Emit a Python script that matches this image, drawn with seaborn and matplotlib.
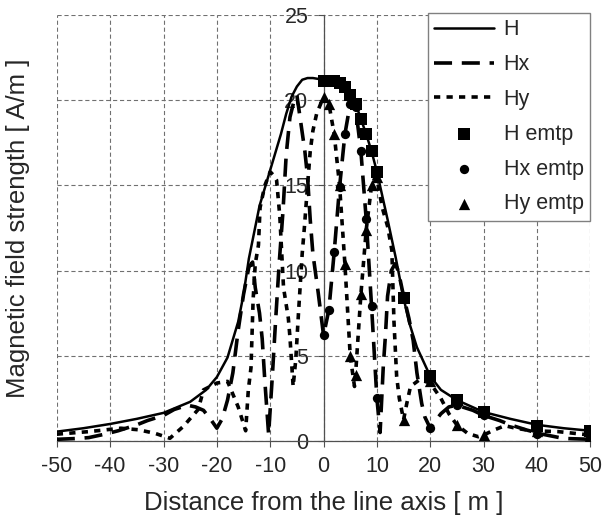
import matplotlib
matplotlib.use("Agg")
import matplotlib.pyplot as plt
import seaborn as sns

sns.set_style("white")
plt.rcParams["font.family"] = ["Liberation Sans", "DejaVu Sans"]
plt.rcParams["lines.scale_dashes"] = False

# ---- data ----
x_H = [-50, -45, -40, -35, -30, -25, -22, -20, -18, -16, -15, -14, -12, -10, -8, -7, -6, -5, -4, -3, -2,
       0, 2, 3, 4, 5, 6, 7, 8, 9, 10, 12, 13.5, 15, 16, 17.5, 20, 22, 25, 30, 35, 40, 45, 50]
H = [0.55, 0.75, 1.0, 1.3, 1.65, 2.3, 3.0, 3.75, 4.9, 7.0, 8.6, 10.7, 13.8, 15.9, 18.0, 19.2, 20.2, 20.8, 21.2, 21.3, 21.3,
     21.2, 21.1, 21.0, 20.8, 20.3, 19.8, 18.9, 18.0, 17.0, 15.8, 13.0, 10.8, 8.4, 7.0, 5.5, 3.8, 3.0, 2.4, 1.7, 1.3, 0.95, 0.75, 0.6]

x_Hx = [-50, -46, -44, -41, -38.5, -35, -33, -30, -28, -25.5,
        -24, -22.5, -21, -20, -19, -18, -17, -16, -15, -14,
        -13.3, -12.8, -12, -11.5, -11, -10.3, -9.6, -9, -8.3, -7.6,
        -7, -6.3, -5.5, -5, -4.5, -3.5, -3, -2.5, -2, -1,
        0, 1, 2, 3, 4, 5, 5.5, 6, 7, 8,
        9, 10, 10.6, 11.2, 11.6, 12, 12.7, 13.4, 14, 15,
        16, 16.8, 17.5, 18.4, 19, 20, 21, 22, 23.5, 25,
        28, 30, 33, 35, 38, 41, 45, 50]
Hx = [0.1, 0.15, 0.2, 0.4, 0.6, 0.95, 1.2, 1.5, 1.85, 2.1,
      2.0, 1.8, 1.2, 0.75, 1.3, 2.4, 4.0, 6.5, 8.6, 10.2,
      10.5, 9.0, 7.5, 6.0, 3.5, 0.4, 3.8, 7.0, 10.5, 13.5,
      16.8, 19.0, 20.0, 20.3, 19.2, 17.0, 15.5, 13.0, 11.0, 8.7,
      6.2, 7.7, 11.1, 14.9, 18.0, 19.8, 20.0, 19.6, 17.0, 13.0,
      7.9, 2.5, 0.5, 4.4, 6.2, 8.5, 10.0, 10.4, 10.0, 8.5,
      7.2, 5.9, 4.0, 2.2, 1.4, 0.75, 1.2, 1.6, 2.0, 2.1,
      1.8, 1.5, 1.2, 0.95, 0.65, 0.4, 0.15, 0.1]

x_Hy = [-50, -44, -38, -34.7, -31.6, -28.8, -26.3, -23.5, -22.5, -20,
        -18, -16, -15, -14.6, -14.1, -13.6, -13.2, -12.8, -12.2, -11.9,
        -11, -10, -9.4, -8.8, -8.2, -7.5, -6.6, -6.3, -5.7, -5.2,
        -4.7, -4, -3.6, -3, -2.5, -2, -1.3, 0, 1, 2,
        3, 4, 5, 5.8, 6, 7, 8, 9, 9.7, 10,
        11, 12, 12.8, 13.2, 13.7, 14.2, 15, 15.6, 16.3, 18,
        20, 22, 23.5, 25, 27, 29, 30, 32, 34, 36,
        39, 44, 50]
Hy = [0.4, 0.55, 0.75, 0.66, 0.45, 0.16, 0.85, 1.85, 3.0, 3.4,
      3.5, 2.0, 1.0, 0.6, 3.0, 4.3, 8.3, 10.4, 11.5, 13.7,
      15.0, 15.8, 15.6, 15.3, 13.2, 9.0, 7.2, 6.1, 3.2, 4.8,
      7.5, 11.0, 12.5, 15.0, 17.0, 18.2, 19.2, 20.2, 19.8, 18.0,
      15.0, 10.4, 5.0, 3.2, 3.9, 8.6, 12.4, 15.0, 15.5, 15.4,
      13.7, 12.6, 11.2, 7.0, 3.8, 2.5, 1.25, 2.2, 3.2, 3.6,
      3.4, 2.5, 1.6, 0.94, 0.45, 0.25, 0.35, 0.65, 0.9, 0.75,
      0.6, 0.55, 0.35]

x_emtp = [0, 1, 2, 3, 4, 5, 6, 7, 8, 9, 10, 15, 20, 25, 30, 40, 50]
H_emtp = [21.1, 21.1, 21.1, 21.0, 20.8, 20.3, 19.8, 18.9, 18.0, 17.0, 15.8, 8.4, 3.8, 2.4, 1.7, 0.9, 0.6]
Hx_emtp = [6.2, 7.7, 11.1, 14.9, 18.0, 19.8, 19.6, 17.0, 13.0, 7.9, 2.5, 8.5, 0.75, 2.1, 1.5, 0.4, 0.15]
Hy_emtp = [20.2, 19.8, 18.0, 15.0, 10.4, 5.0, 3.9, 8.6, 12.4, 15.0, 15.5, 1.25, 3.5, 0.94, 0.35, 0.6, 0.3]

x_ticks = [-50, -40, -30, -20, -10, 0, 10, 20, 30, 40, 50]
y_ticks = [0, 5, 10, 15, 20, 25]

# ---- figure ----
W, Hpx = 603, 524
fig = plt.figure(figsize=(W / 100, Hpx / 100), dpi=100)
x0, x1, ytop, ybot = 56.8, 590.3, 15, 441
ax = fig.add_axes([x0 / W, 1 - ybot / Hpx, (x1 - x0) / W, (ybot - ytop) / Hpx])

sns.lineplot(x=x_H, y=H, ax=ax, color="black", lw=1.8, label="H",
             estimator=None, sort=False, zorder=3)
sns.lineplot(x=x_Hx, y=Hx, ax=ax, color="black", lw=2.6, linestyle=(0, (13, 7)),
             label="Hx", estimator=None, sort=False, zorder=3)
sns.lineplot(x=x_Hy, y=Hy, ax=ax, color="black", lw=2.6, linestyle=(0, (4.5, 4.5)),
             label="Hy", estimator=None, sort=False, zorder=3)
sns.scatterplot(x=x_emtp, y=H_emtp, ax=ax, marker="s", s=78, color="black",
                edgecolor="black", linewidth=0, label="H emtp", zorder=4)
sns.scatterplot(x=x_emtp, y=Hx_emtp, ax=ax, marker="o", s=45, color="black",
                edgecolor="black", linewidth=0, label="Hx emtp", zorder=4)
sns.scatterplot(x=x_emtp, y=Hy_emtp, ax=ax, marker="^", s=66, color="black",
                edgecolor="black", linewidth=0, label="Hy emtp", zorder=4)

ax.set_xlim(-50, 50)
ax.set_ylim(0, 25)
ax.set_xticks(x_ticks)
ax.set_yticks(y_ticks)
ax.set_xticklabels([str(v) for v in x_ticks])
ax.set_yticklabels([str(v) for v in y_ticks])

ax.grid(True, color="#707070", lw=0.8, linestyle=(0, (3, 2)))
for s in ["top", "right"]:
    ax.spines[s].set_visible(False)
ax.spines["left"].set_position(("data", 0))
ax.spines["left"].set_color("#505050")
ax.spines["left"].set_linewidth(0.9)
ax.spines["bottom"].set_color("#505050")
ax.spines["bottom"].set_linewidth(0.9)

ax.tick_params(axis="x", direction="out", length=4.5, width=0.8, color="#505050",
               labelsize=15.5, pad=6, bottom=True)
ax.tick_params(axis="y", direction="out", length=4, width=0.8, color="#505050",
               labelsize=15.5, pad=7, left=True)

ax.set_xlabel("Distance from the line axis [ m ]", fontsize=18.5)
ax.set_ylabel("Magnetic field strength [ A/m ]", fontsize=18.5)
ax.xaxis.set_label_coords(0.5, (ybot - 491) / (ybot - ytop))
ax.yaxis.set_label_coords((30 - x0) / (x1 - x0), 0.5)

leg = ax.legend(loc="upper right", bbox_to_anchor=(590 / W, 1 - 13 / Hpx),
                bbox_transform=fig.transFigure, frameon=True, fancybox=False,
                framealpha=1, edgecolor="#808080", fontsize=15.5,
                handlelength=2.8, handletextpad=0.42, labelspacing=0.64,
                borderpad=0.3, borderaxespad=0, markerscale=1.0)
leg.get_frame().set_linewidth(1.0)

fig.savefig("out.png", dpi=100)
